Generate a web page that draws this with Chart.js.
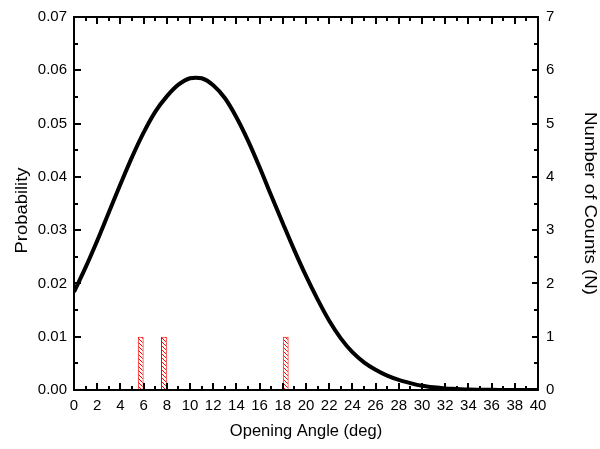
<!DOCTYPE html>
<html>
<head>
<meta charset="utf-8">
<script src="https://cdn.jsdelivr.net/npm/chart.js@4/dist/chart.umd.min.js"></script>
<style>
  html, body { margin: 0; padding: 0; background: #fff; }
  #wrap { width: 600px; height: 449px; }
</style>
</head>
<body>
<div id="wrap"><canvas id="cv"></canvas></div>
<script>
// probability curve
var angles = [0, 1, 2, 3, 4, 5, 6, 7, 8, 9, 10, 10.5, 11, 12, 13, 14, 15, 16, 17, 18, 19, 20,
    21, 22, 23, 24, 25, 26, 27, 28, 29, 30, 31, 32, 33, 34, 35, 36, 37, 38, 39, 40];
var probability = [0.0184, 0.0230, 0.0280, 0.0333, 0.0386, 0.0437, 0.0483, 0.0522, 0.0551, 0.0573,
    0.0585, 0.0586, 0.0585, 0.0572, 0.0548, 0.0512, 0.0468, 0.0418, 0.0365, 0.0313, 0.0262, 0.0214,
    0.0170, 0.0130, 0.0097, 0.0071, 0.0052, 0.0038, 0.0027, 0.0019, 0.0013, 0.0008, 0.0005, 0.0003,
    0.0002, 0.0001, 0.00006, 0.00003, 0.00002, 0.00001, 0, 0];

// histogram of observed counts (bin centres, 0.5 deg wide)
var binCenters = [5.75, 7.75, 18.25];
var binCounts = [1, 1, 1];

var xTitle = "Opening Angle (deg)";
var yTitle = "Probability";
var y1Title = "Number of Counts (N)";

var font = "'Liberation Sans', Arial, Helvetica, sans-serif";

function hatch() {
    var c = document.createElement("canvas");
    c.width = 4; c.height = 4;
    var g = c.getContext("2d");
    g.fillStyle = "#fff";
    g.fillRect(0, 0, 4, 4);
    g.fillStyle = "#ff0000";
    for (var i = 0; i < 4; i++) {
        g.fillRect(i, i, 1, 1);
    }
    return g.createPattern(c, "repeat");
}

var linePts = angles.map(function(a, i) { return {x: a, y: probability[i]}; });
var barPts = binCenters.map(function(c, i) { return {x: c, y: binCounts[i]}; });

// frame with inward ticks on all four sides
var framePlugin = {
    id: "frame",
    afterDatasetsDraw: function(chart) {
        var ctx = chart.ctx, a = chart.chartArea;
        var major = 7, minor = 4;
        ctx.save();
        ctx.strokeStyle = "#000";
        ctx.lineWidth = 2;
        ctx.beginPath();
        chart.scales.x.ticks.forEach(function(t, i) {
            var px = Math.round(chart.scales.x.getPixelForTick(i));
            var len = t.label !== "" ? major : minor;
            ctx.moveTo(px, a.bottom); ctx.lineTo(px, a.bottom - len);
            ctx.moveTo(px, a.top); ctx.lineTo(px, a.top + len);
        });
        chart.scales.y.ticks.forEach(function(t, i) {
            var py = Math.round(chart.scales.y.getPixelForTick(i));
            var len = t.label !== "" ? major : minor;
            ctx.moveTo(a.left, py); ctx.lineTo(a.left + len, py);
        });
        chart.scales.y1.ticks.forEach(function(t, i) {
            var py = Math.round(chart.scales.y1.getPixelForTick(i));
            var len = t.label !== "" ? major - 1 : minor;
            ctx.moveTo(a.right, py); ctx.lineTo(a.right - len, py);
        });
        ctx.stroke();
        ctx.strokeRect(a.left, a.top, a.right - a.left, a.bottom - a.top);
        ctx.restore();
    },
    // vertical axis titles, drawn a bit stretched like the original export
    afterDraw: function(chart) {
        var ctx = chart.ctx, a = chart.chartArea;
        var mid = (a.top + a.bottom) / 2;
        ctx.save();
        ctx.fillStyle = "#000";
        ctx.font = "16px " + font;
        ctx.textAlign = "center";
        ctx.textBaseline = "alphabetic";

        ctx.save();
        ctx.translate(26.7, mid + 7);
        ctx.rotate(-Math.PI / 2);
        ctx.scale(1.15, 1);
        ctx.fillText(yTitle, 0, 0);
        ctx.restore();

        ctx.save();
        ctx.translate(585, mid);
        ctx.rotate(Math.PI / 2);
        ctx.scale(1.17, 1);
        ctx.fillText(y1Title, 0, 0);
        ctx.restore();

        ctx.restore();
    }
};

var tickFont = {family: font, size: 15};
var titleFont = {family: font, size: 16.5};

new Chart(document.getElementById("cv"), {
    type: "line",
    data: {
        datasets: [{
            type: "line",
            data: linePts,
            yAxisID: "y",
            borderColor: "#000",
            borderWidth: 4,
            pointRadius: 0,
            cubicInterpolationMode: "monotone",
            fill: false,
            order: 0
        }, {
            type: "bar",
            data: barPts,
            yAxisID: "y1",
            backgroundColor: hatch(),
            borderColor: "#ff0000",
            borderWidth: 1,
            borderSkipped: false,
            barPercentage: 0.5,
            categoryPercentage: 1,
            order: 1
        }]
    },
    options: {
        responsive: true,
        maintainAspectRatio: false,
        animation: false,
        layout: {padding: {top: 13, left: 0, right: 0, bottom: 0}},
        plugins: {legend: {display: false}, tooltip: {enabled: false}},
        scales: {
            x: {
                type: "linear",
                min: 0, max: 40,
                offset: false,
                grid: {display: false, drawTicks: false},
                border: {display: false},
                ticks: {
                    stepSize: 1, autoSkip: false, maxRotation: 0, padding: 7,
                    color: "#000", font: tickFont,
                    callback: function(v) { return Math.round(v) % 2 === 0 ? String(Math.round(v)) : ""; }
                },
                title: {display: true, text: xTitle, color: "#000", font: titleFont, padding: {top: 0, bottom: 8}},
                afterFit: function(s) { s.height = 59; }
            },
            y: {
                position: "left",
                min: 0, max: 0.07,
                grid: {display: false, drawTicks: false},
                border: {display: false},
                ticks: {
                    stepSize: 0.005, autoSkip: false, padding: 7,
                    color: "#000", font: tickFont,
                    callback: function(v) { return Math.round(v * 1000) % 10 === 0 ? v.toFixed(2) : ""; }
                },
                title: {display: false, text: yTitle},
                afterFit: function(s) { s.width = 74; }
            },
            y1: {
                position: "right",
                min: 0, max: 7,
                grid: {display: false, drawTicks: false},
                border: {display: false},
                ticks: {
                    stepSize: 0.5, autoSkip: false, padding: 8,
                    color: "#000", font: tickFont,
                    callback: function(v) { return Number.isInteger(v) ? String(v) : ""; }
                },
                title: {display: false, text: y1Title},
                afterFit: function(s) { s.width = 62; }
            }
        }
    },
    plugins: [framePlugin]
});
</script>
</body>
</html>
